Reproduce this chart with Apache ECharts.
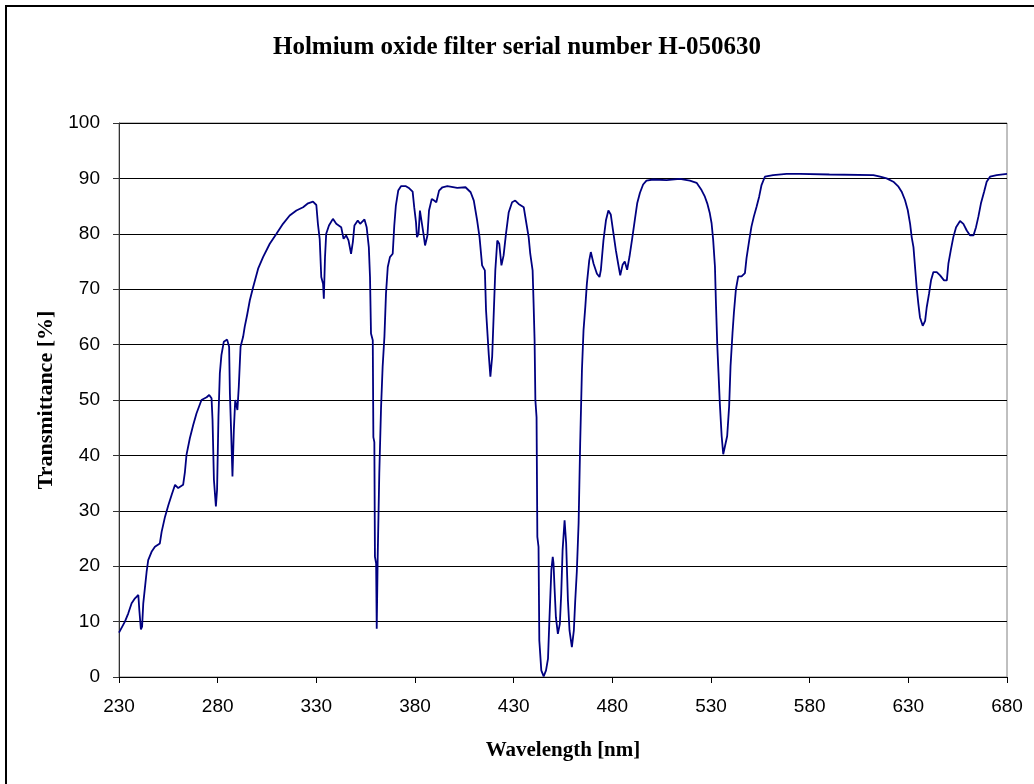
<!DOCTYPE html>
<html>
<head>
<meta charset="utf-8">
<script src="https://cdn.jsdelivr.net/npm/echarts@6/dist/echarts.min.js"></script>
<style>
html,body{margin:0;padding:0;background:#fff;}
#chart{width:1034px;height:784px;}
</style>
</head>
<body>
<div id="chart"></div>
<script>
const titleText = 'Holmium oxide filter serial number H-050630';
const xAxisName = 'Wavelength [nm]';
const yAxisName = 'Transmittance [%]';
const xTicks = [230, 280, 330, 380, 430, 480, 530, 580, 630, 680];
const yTicks = [0, 10, 20, 30, 40, 50, 60, 70, 80, 90, 100];

const wavelength = [
230,231,233,234.7,236.4,238.1,239.8,240.3,241.1,241.7,242.3,243.2,244,244.8,246.5,248.2,250.7,251.6,253.3,255,
256.7,258.4,260,262.5,263.4,264.2,265.9,267.6,269.3,271.8,274.4,275.7,276.9,277.4,278.1,279.1,279.7,280.4,281.1,281.9,
283.1,284.8,285.8,286.2,286.8,287.5,288.2,288.9,290,290.7,291.6,292.9,293.7,294.9,296.3,298,300.5,303,306.4,309.8,
313.1,316.5,319.9,323.3,325.8,328.3,330,330.8,331.7,332.5,333.4,333.8,334.4,335,336.4,338.4,340.1,342.6,343.8,345.1,
346.3,347.6,348.5,349.3,351,352.2,354.4,355.5,356.6,357.2,357.7,358.6,358.9,359.4,359.7,360.3,360.6,361.1,361.9,362.8,
363.6,364.5,365.3,366.2,367.3,368.7,369.5,370.3,371.5,372.9,375.4,377.1,378.8,379.6,380.5,381,381.8,382.5,383.5,384.3,
385.1,386.3,387.1,388.5,389.7,390.8,392.2,393.9,396.4,401.4,405.6,408.2,409.8,411.5,412.7,414,415.4,416,417.4,418.2,
419.1,419.9,420.7,421.7,422.7,423.8,424.9,426.1,427.5,429.2,430.8,432.5,435.1,436.2,437.6,438.4,439.6,440.1,440.6,441,
441.6,442,442.6,443,444,445.2,446.4,447.4,448.1,449.1,449.8,450.2,450.7,451.4,452.4,453.4,454.1,454.8,455.8,456.6,
457.5,458.3,459.5,460.5,461.2,462,462.9,463.7,464.6,465.4,466.3,467.1,468.3,469.1,470.5,472.2,473.5,474.2,475.5,476.8,
478,479.2,480.4,481.8,483,484,485.2,486.3,487.5,488.7,490,491.4,492.6,494,495.6,497.3,500.7,507.5,514.2,519.3,
522.7,525.2,526.9,528.1,529.4,530.3,531.1,532,532.5,533.2,533.8,534.5,535.4,536.2,537.2,538.2,539.2,539.9,540.9,541.6,
542.6,543.8,545.5,547.2,548,549.4,550.5,551.7,553.1,554.4,555.6,557.3,561.5,568.3,575,590,612.3,615.7,619,622.4,
625,626.6,628.3,629.7,630.9,631.7,632.6,633.4,634.2,635.1,635.9,637.3,638.5,639.3,640.5,641.5,642.7,644.4,646.1,648.1,
649.5,650.3,651.5,652.8,654.2,656.2,657.9,659.6,661.3,663,664.3,665.5,666.8,668.4,669.7,671.4,674.8,680
];

const transmittance = [
8,8.2,10,11.5,13.3,14.2,14.8,12.1,8.6,9.1,13.3,16.3,19,21.1,22.6,23.5,24.1,26.2,28.9,31,
32.9,34.7,34.1,34.7,37,40.1,43.1,45.5,47.6,50,50.5,50.9,50.3,46.4,35.6,30.8,33.8,47,54.8,58.1,
60.5,60.9,59.6,51.2,44.6,36.2,44.6,50,48.2,52.4,59.6,61.4,63.2,65.3,68,70.4,73.7,75.8,78.2,80,
81.8,83.3,84.2,84.8,85.5,85.8,85.2,81.8,79.1,72.2,71,68.3,75.8,80,81.5,82.7,81.8,81.2,79.1,79.7,
78.8,76.4,78.5,81.5,82.4,81.8,82.6,81.2,77.6,72.2,62,60.8,43.3,42.4,21.7,20.5,8.7,21.7,36.7,48.7,
56,61.4,69.2,74,75.8,76.4,81.5,85.1,87.8,88.6,88.6,88.2,87.6,84.8,82.1,79.4,80,84.2,83.9,80,
77.9,79.7,84.2,86.3,86,85.7,87.8,88.4,88.6,88.3,88.4,87.5,86,82.4,79.4,74.3,73.4,66.2,58.1,54.2,
57.8,65.6,73.4,78.8,78.2,74.3,76.1,80,83.9,85.7,86,85.4,84.8,82.4,79.4,76.4,73.4,67.4,60.8,50,
46.9,25.3,23.5,6.6,1.2,0.1,1.2,3.3,10.2,19.3,21.7,20.5,16.2,10.8,7.8,9.6,15,22.9,28.3,24.1,
13.8,8.4,5.4,8.4,13.8,19,27.7,42.1,55.4,62.6,66.8,71,75.2,76.7,74.6,72.8,72.2,73.5,78.8,82.5,
84.2,83.5,80.5,77,74.5,72.5,74.4,75,73.5,75.9,79,82.5,85.5,87.4,88.9,89.6,89.8,89.7,89.9,89.6,
89.2,87.9,86.7,85.5,83.7,81.9,78.9,74.1,67.5,59.7,54.9,49.2,43.5,40.2,40.5,43.5,48.9,56.1,62.1,65.7,
69.9,72.3,72.3,72.9,75.6,78.9,81.3,83.1,84.9,86.7,88.8,90.3,90.6,90.8,90.8,90.7,90.6,90.3,90,89.4,
88.5,87.6,86.1,84.3,81.8,79.4,77.6,74,70.4,67.3,64.9,63.4,64.3,66.7,69.2,71.6,73.1,73.1,72.5,71.6,
71.6,74.6,77,79.4,81.2,82.3,81.8,80.6,79.7,79.7,81.2,83.1,85.5,87.6,89.4,90.3,90.6,90.8
];

const points = wavelength.map((w, i) => [w, transmittance[i]]);

const chart = echarts.init(document.getElementById('chart'), null, {renderer: 'canvas'});
chart.setOption({
  backgroundColor: '#ffffff',
  animation: false,
  title: {
    text: titleText,
    left: 'center',
    top: 30,
    textStyle: {fontFamily: '"Liberation Serif", "Times New Roman", serif', fontWeight: 'bold', fontSize: 25, color: '#000'}
  },
  graphic: [{
    type: 'rect',
    shape: {x: 6, y: 6, width: 1200, height: 1000},
    style: {fill: 'none', stroke: '#000', lineWidth: 2},
    silent: true
  }],
  grid: {
    left: 119, top: 123, width: 888, height: 554,
    show: true, borderColor: '#808080', borderWidth: 1, backgroundColor: '#fff'
  },
  xAxis: {
    type: 'value',
    min: xTicks[0], max: xTicks[xTicks.length - 1], interval: 50,
    name: xAxisName,
    nameLocation: 'middle',
    nameGap: 63,
    nameTextStyle: {fontFamily: '"Liberation Serif", "Times New Roman", serif', fontWeight: 'bold', fontSize: 21, color: '#000'},
    axisLine: {show: true, onZero: false, lineStyle: {color: '#000', width: 1}},
    axisTick: {show: true, inside: false, length: 6, lineStyle: {color: '#000'}},
    axisLabel: {margin: 20, fontFamily: '"Liberation Sans", Arial, sans-serif', fontSize: 19, color: '#000'},
    splitLine: {show: false}
  },
  yAxis: {
    type: 'value',
    min: yTicks[0], max: yTicks[yTicks.length - 1], interval: 10,
    name: yAxisName,
    nameLocation: 'middle',
    nameGap: 62,
    nameTextStyle: {fontFamily: '"Liberation Serif", "Times New Roman", serif', fontWeight: 'bold', fontSize: 22, color: '#000'},
    axisLine: {show: true, lineStyle: {color: '#333', width: 1}},
    axisTick: {show: true, inside: false, length: 6, lineStyle: {color: '#333'}},
    axisLabel: {margin: 19, fontFamily: '"Liberation Sans", Arial, sans-serif', fontSize: 19, color: '#000'},
    splitLine: {show: true, lineStyle: {color: '#000', width: 1}}
  },
  series: [{
    type: 'line',
    data: points,
    showSymbol: false,
    symbol: 'none',
    lineStyle: {color: '#000080', width: 1.8},
    itemStyle: {color: '#000080'}
  }]
});
</script>
</body>
</html>
